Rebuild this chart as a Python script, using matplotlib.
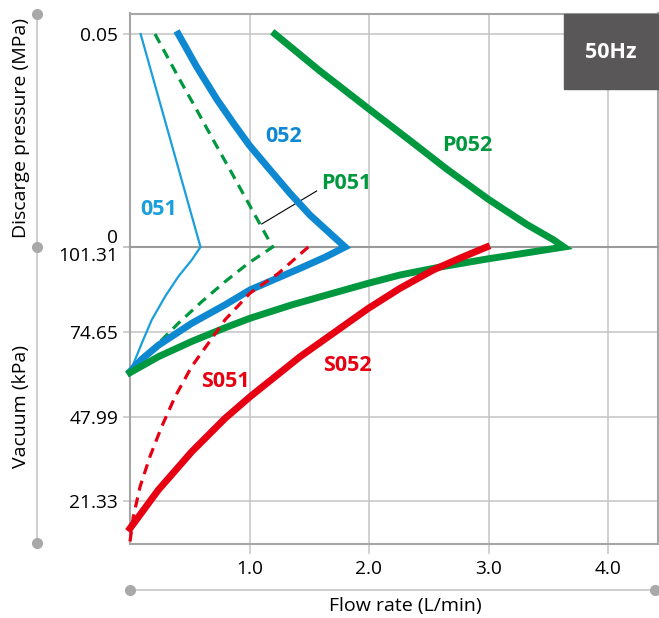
import matplotlib

matplotlib.use("Agg")
import matplotlib.pyplot as plt
import numpy as np
from matplotlib.lines import Line2D
from matplotlib.patches import Rectangle

plt.rcParams["font.family"] = ["Open Sans", "DejaVu Sans"]

# flow rate (L/min); upper part = discharge pressure (MPa), lower part = vacuum (kPa)
q051_up = [0.089, 0.59]
p051_up = [0.05, 0.0]
q051_dn = [0.59, 0.516, 0.404, 0.293, 0.182, 0.098, 0.042, 0.0]
v051_dn = [101.31, 97.2, 92.0, 85.7, 78.4, 71.0, 65.8, 62.1]

q052_up = [0.404, 0.558, 0.726, 0.864, 0.998, 1.172, 1.339, 1.506, 1.674, 1.80]
p052_up = [0.05, 0.0423, 0.0347, 0.0291, 0.0239, 0.0181, 0.0126, 0.0075, 0.0032, 0.0]
q052_dn = [1.80, 1.632, 1.423, 1.004, 0.795, 0.516, 0.237, 0.098, 0.0]
v052_dn = [101.31, 98.1, 94.6, 87.8, 83.1, 77.3, 70.4, 66.0, 62.1]

qP051_up = [0.209, 0.418, 0.558, 0.697, 0.837, 0.977, 1.130, 1.194]
pP051_up = [0.05, 0.0392, 0.0322, 0.0251, 0.0181, 0.0110, 0.0032, 0.0]
qP051_dn = [1.194, 0.990, 0.795, 0.600, 0.404, 0.237, 0.098, 0.0]
vP051_dn = [101.31, 96.2, 90.4, 84.1, 77.3, 71.0, 65.8, 62.1]

qP052_up = [1.213, 1.590, 2.008, 2.343, 2.650, 2.999, 3.320, 3.543, 3.63]
pP052_up = [0.05, 0.0413, 0.0322, 0.0250, 0.0183, 0.0112, 0.0053, 0.0017, 0.0]
qP052_dn = [3.63, 3.375, 2.998, 2.594, 2.259, 1.994, 1.701, 1.353, 1.004,
            0.795, 0.516, 0.237, 0.0]
vP052_dn = [101.31, 99.8, 97.6, 95.0, 92.5, 89.9, 86.8, 83.1, 78.9,
            75.9, 71.6, 66.8, 61.8]

qS051 = [1.492, 1.241, 1.004, 0.795, 0.655, 0.516, 0.377, 0.265, 0.167,
         0.084, 0.028, 0.0]
vS051 = [101.31, 93.0, 86.8, 78.4, 71.0, 63.7, 54.2, 44.8, 35.4,
         25.9, 16.5, 8.6]

qS052 = [2.985, 2.762, 2.538, 2.259, 1.994, 1.701, 1.423, 1.004, 0.795,
         0.516, 0.237, 0.0]
vS052 = [101.31, 97.8, 94.1, 88.3, 82.0, 74.2, 66.8, 54.2, 47.4,
         36.9, 24.9, 12.8]

x_ticks = [1.0, 2.0, 3.0, 4.0]
vac_ticks = [101.31, 74.65, 47.99, 21.33]

LIGHT_BLUE = "#1a9fdd"
BLUE = "#0f88d2"
GREEN = "#00983f"
RED = "#e60012"
GRID = "#c4c4c4"
FRAME = "#a6a6a6"

W, H = 659, 618
fig = plt.figure(figsize=(W / 100, H / 100), dpi=100)


def fx(px):
    return px / W


def fy(py):
    return 1 - py / H


left, right, top, mid, bottom = 130, 658, 13.5, 247, 543.5
ax_top = fig.add_axes([fx(left), fy(mid), fx(right) - fx(left), fy(top) - fy(mid)])
ax_bot = fig.add_axes([fx(left), fy(bottom), fx(right) - fx(left), fy(mid) - fy(bottom)])

xmax = (right - left) / 119.5
ax_top.set_xlim(0, xmax)
ax_bot.set_xlim(0, xmax)
ax_top.set_ylim(0, 0.05 * (mid - top) / 213)
ax_bot.set_ylim(101.31 - (bottom - mid) * 26.66 / 84.77, 101.31)

for ax in (ax_top, ax_bot):
    ax.set_xticks(x_ticks)
    ax.grid(True, color=GRID, linewidth=1.1)
    ax.set_axisbelow(True)
    for s in ax.spines.values():
        s.set_color(FRAME)
        s.set_linewidth(1.5)
    ax.tick_params(axis="y", direction="out", length=5, width=1.1, color=GRID,
                   pad=3.5, labelsize=13.8)

ax_top.spines["bottom"].set_visible(False)
ax_bot.spines["top"].set_color("#9a9a9a")
ax_top.tick_params(axis="x", length=0, labelbottom=False)
ax_bot.tick_params(axis="x", direction="out", length=7, width=1.1, color=GRID,
                   pad=5, labelsize=13.8)
ax_bot.set_xticklabels([f"{t:.1f}" for t in x_ticks])

ax_top.set_yticks([0.0, 0.05], labels=["0", "0.05"])
ax_top.get_yticklabels()[0].set_va("bottom")
ax_bot.set_yticks(vac_ticks, labels=[f"{t:.2f}" for t in vac_ticks])
ax_bot.get_yticklabels()[0].set_va("top")


def draw_curve(q_up, p_up, q_dn, v_dn, **kw):
    parts = []
    if q_up:
        parts.append(ax_top.transData.transform(np.column_stack([q_up, p_up])))
        parts.append(ax_bot.transData.transform(np.column_stack([q_dn, v_dn]))[1:])
    else:
        parts.append(ax_bot.transData.transform(np.column_stack([q_dn, v_dn])))
    xy = fig.transFigure.inverted().transform(np.vstack(parts))
    fig.add_artist(Line2D(xy[:, 0], xy[:, 1], transform=fig.transFigure,
                          solid_joinstyle="miter", dash_joinstyle="miter", **kw))


draw_curve(q051_up, p051_up, q051_dn, v051_dn, color=LIGHT_BLUE, lw=1.6)
draw_curve(qP051_up, pP051_up, qP051_dn, vP051_dn, color=GREEN, lw=2.3,
           linestyle=(0, (3.2, 2.2)))
draw_curve(q052_up, p052_up, q052_dn, v052_dn, color=BLUE, lw=5)
draw_curve(qP052_up, pP052_up, qP052_dn, vP052_dn, color=GREEN, lw=5)
draw_curve(None, None, qS051, vS051, color=RED, lw=2.3, linestyle=(0, (3.2, 2.2)))
draw_curve(None, None, qS052, vS052, color=RED, lw=5)

lab = dict(fontsize=15.5, fontweight="bold", ha="center", va="center")
ax_top.text(0.237, 0.0087, "051", color=LIGHT_BLUE, **lab)
ax_top.text(1.283, 0.0259, "052", color=BLUE, **lab)
ax_top.text(1.813, 0.0150, "P051", color=GREEN, **lab)
ax_top.plot([1.562, 1.102], [0.01315, 0.0054], color="black", lw=0.8)
ax_top.text(2.818, 0.0238, "P052", color=GREEN, **lab)
ax_bot.text(0.795, 59.0, "S051", color=RED, **lab)
ax_bot.text(1.822, 63.9, "S052", color=RED, **lab)

# 50Hz badge
fig.add_artist(Rectangle((fx(564), fy(89)), fx(658) - fx(564), fy(14) - fy(89),
                         transform=fig.transFigure, color="#595757", zorder=5))
fig.text(fx(611), fy(52), "50Hz", color="white", fontsize=15.5, fontweight="bold",
         ha="center", va="center", zorder=6)

# side and bottom guide lines with dots
fig.add_artist(Line2D([fx(37), fx(37)], [fy(14), fy(543)], color="#c6c6c6", lw=1.2))
fig.add_artist(Line2D([fx(37)] * 3, [fy(14), fy(247), fy(543)], color="#a9a9a9",
                      lw=0, marker="o", markersize=7))
fig.add_artist(Line2D([fx(130), fx(655)], [fy(590), fy(590)], color="#c6c6c6", lw=1.2))
fig.add_artist(Line2D([fx(130), fx(655)], [fy(590), fy(590)], color="#a9a9a9",
                      lw=0, marker="o", markersize=7))

fig.text(fx(21), fy(128), "Discarge pressure (MPa)", rotation=90, fontsize=14,
         ha="center", va="center")
fig.text(fx(21), fy(406), "Vacuum (kPa)", rotation=90, fontsize=14,
         ha="center", va="center")
fig.text(fx(405), fy(606), "Flow rate (L/min)", fontsize=14, ha="center", va="center")

fig.savefig("out.png", dpi=100)
plt.close(fig)
